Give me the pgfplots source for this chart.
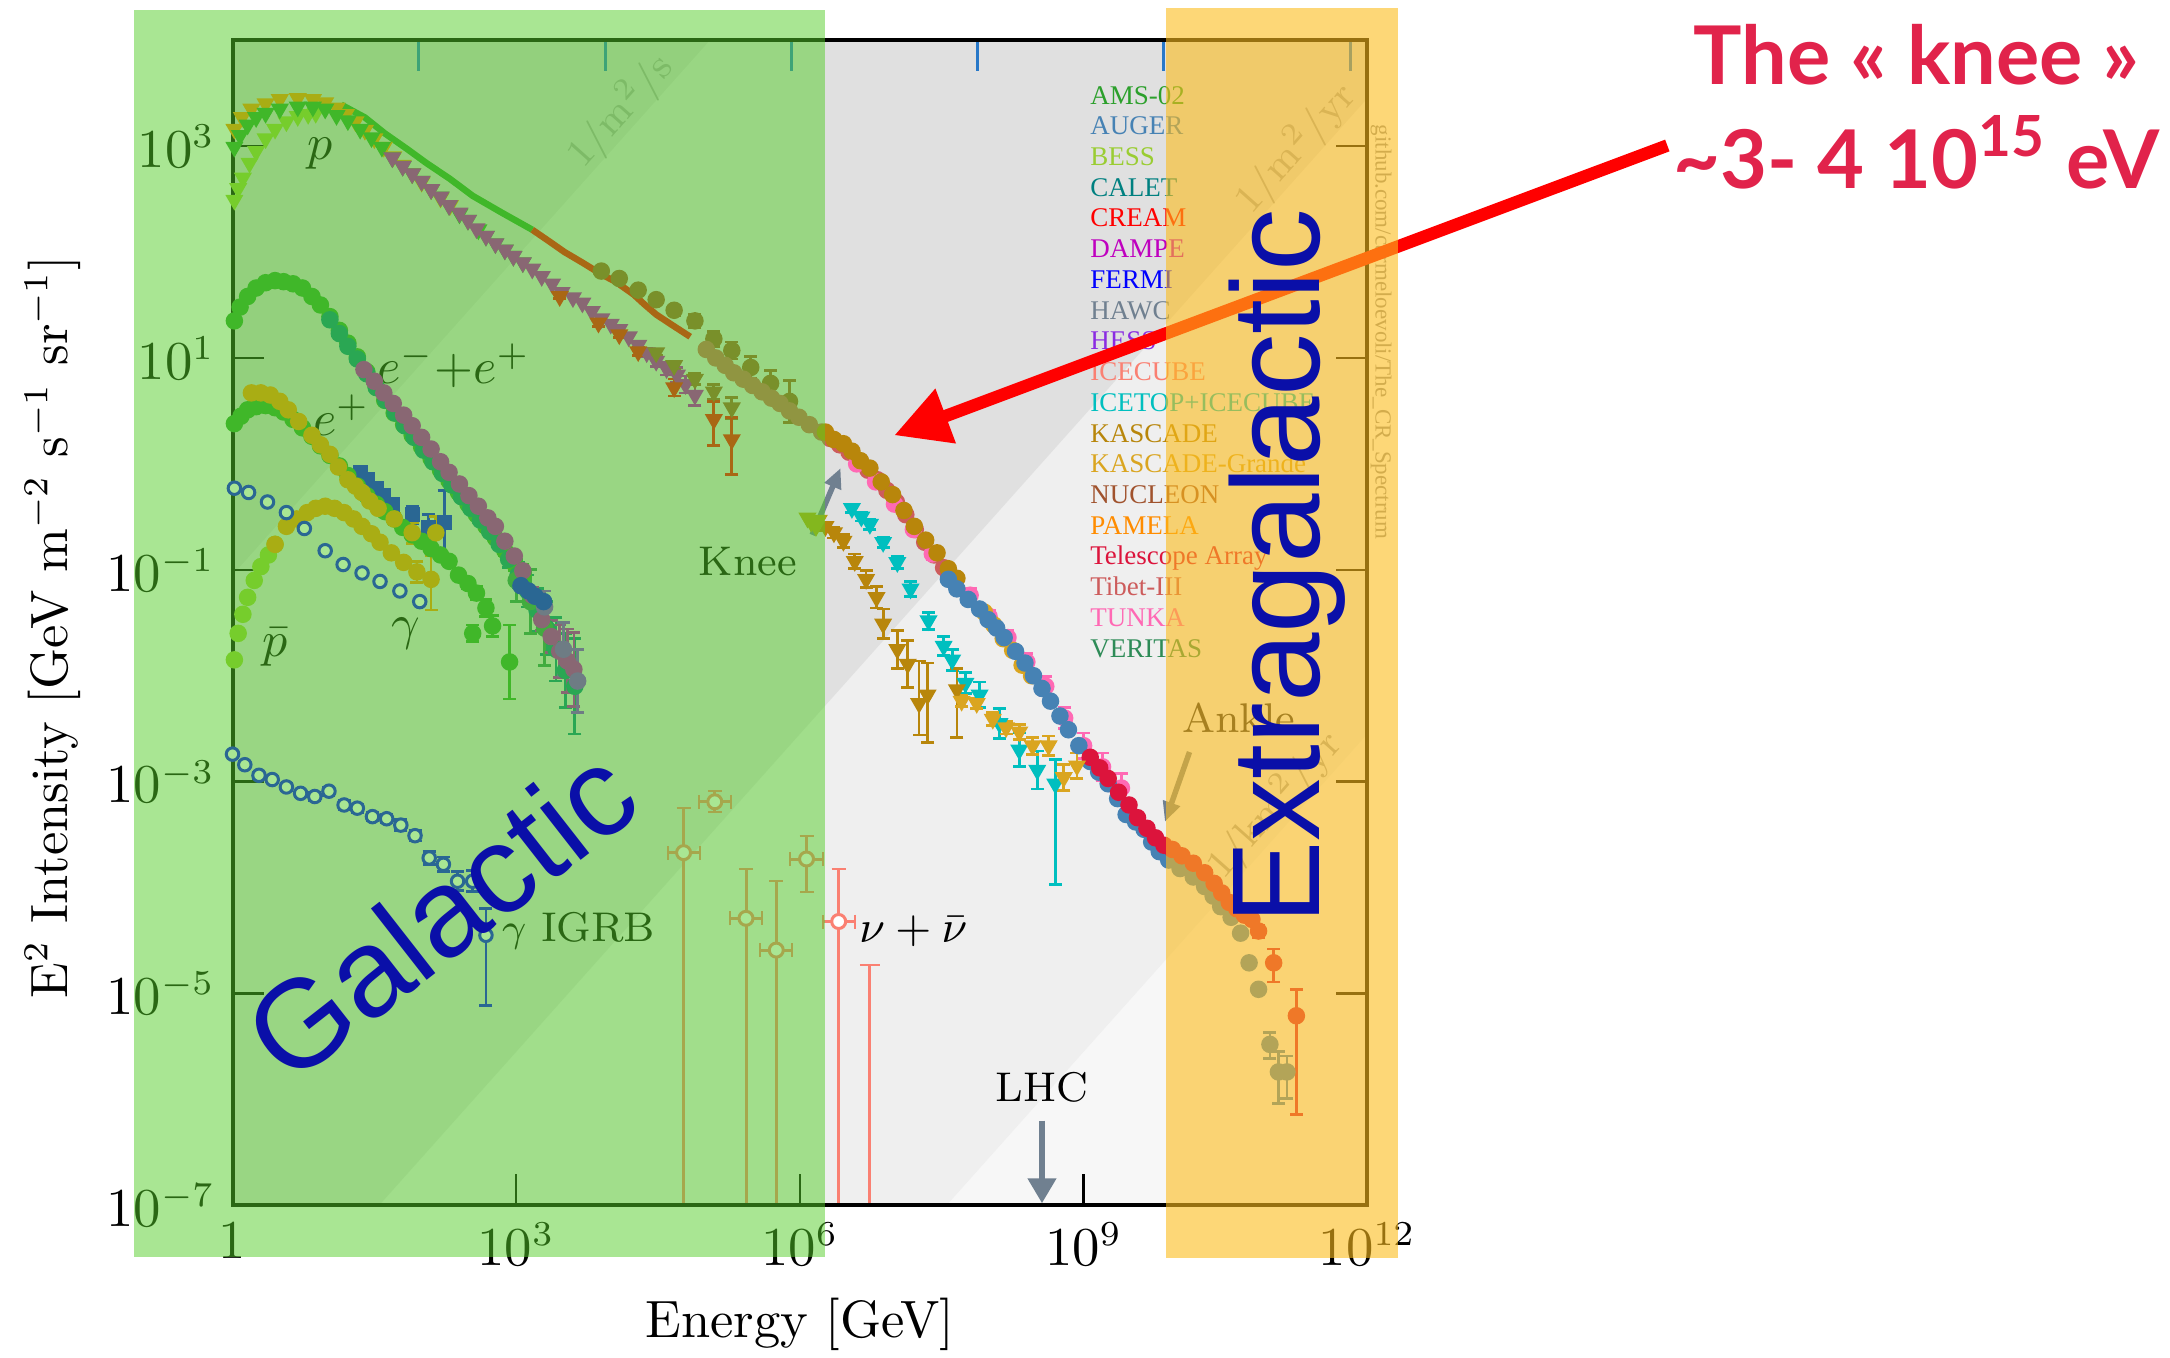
\documentclass[border=0pt]{standalone}
\usepackage{pgfplots}
\pgfplotsset{compat=1.18}
\usepackage{fontspec}
\usetikzlibrary{arrows.meta}
\newfontfamily\arialf{Liberation Sans}
\newfontfamily\latof{Lato}
\newfontfamily\serf{Liberation Serif}
\definecolor{cAMS}{RGB}{44,160,44}
\definecolor{cAUGER}{RGB}{70,130,180}
\definecolor{cBESS}{RGB}{154,205,50}
\definecolor{cCALET}{RGB}{0,128,128}
\definecolor{cCREAM}{RGB}{255,0,0}
\definecolor{cDAMPE}{RGB}{191,0,191}
\definecolor{cFERMI}{RGB}{0,0,255}
\definecolor{cHAWC}{RGB}{112,128,144}
\definecolor{cHESS}{RGB}{138,43,226}
\definecolor{cICECUBE}{RGB}{250,128,114}
\definecolor{cICETOP}{RGB}{0,191,191}
\definecolor{cKASCADE}{RGB}{184,134,11}
\definecolor{cKG}{RGB}{218,165,32}
\definecolor{cNUCLEON}{RGB}{160,82,45}
\definecolor{cPAMELA}{RGB}{255,140,0}
\definecolor{cTA}{RGB}{220,20,60}
\definecolor{cTIBET}{RGB}{205,92,92}
\definecolor{cTUNKA}{RGB}{255,105,180}
\definecolor{cVERITAS}{RGB}{46,139,87}
\definecolor{cKNEE}{RGB}{180,160,20}
\definecolor{slate}{RGB}{112,128,144}
\definecolor{bgA}{RGB}{212,212,212}
\definecolor{bgB}{RGB}{224,224,224}
\definecolor{bgC}{RGB}{239,239,239}
\definecolor{bgD}{RGB}{247,247,247}
\definecolor{galgreen}{RGB}{84,206,40}
\definecolor{exorange}{RGB}{252,188,28}
\definecolor{galblue}{RGB}{10,15,168}
\definecolor{kneered}{RGB}{225,35,75}
\definecolor{tickblue}{RGB}{40,120,200}
\definecolor{diag}{RGB}{168,168,168}
\definecolor{ghgray}{RGB}{150,150,150}
\pgfplotsset{
  pc/.style={only marks, mark=*, mark size=1.55pt, color=#1},
  pt/.style={only marks, mark=triangle*, mark size=1.7pt, mark options={rotate=180}, color=#1},
  ps/.style={only marks, mark=square*, mark size=1.3pt, color=#1},
  po/.style={only marks, mark=*, mark size=1.25pt, mark options={fill=white, line width=0.6pt}, color=#1},
  eb/.style={/pgfplots/error bars/y dir=both, /pgfplots/error bars/y explicit, /pgfplots/error bars/error bar style={line width=0.55pt}, /pgfplots/error bars/error mark options={rotate=90, mark size=1.3pt, line width=0.55pt}},
}
\begin{document}
\begin{tikzpicture}
\begin{axis}[
  at={(46.5pt,30.32pt)}, anchor=south west,
  scale only axis, width=226.96pt, height=233.06pt,
  xmin=0, xmax=12, ymin=-7, ymax=4,
  axis on top,
  axis background/.style={fill=bgD},
  axis line style={line width=0.8pt, black},
  every tick/.style={black, line width=0.5pt},
  tick align=inside, major tick length=6.2pt,
  xtick={0,3,6,9,12},
  xticklabels={$1$,$10^{3}$,$10^{6}$,$10^{9}$,$10^{12}$},
  ytick={-7,-5,-3,-1,1,3},
  yticklabels={$10^{-7}$,$10^{-5}$,$10^{-3}$,$10^{-1}$,$10^{1}$,$10^{3}$},
  xtick pos=left, ytick pos=both,
  xticklabel pos=left, yticklabel pos=left,
  tick label style={font=\fontsize{10.5}{12}\selectfont},
  label style={font=\fontsize{10.5}{12}\selectfont},
  xlabel={Energy [GeV]},
  ylabel={E$^2$ Intensity [GeV m$^{-2}$ s$^{-1}$ sr$^{-1}$]},
  xlabel style={at={(axis description cs:0.5,-0.102)}, anchor=center},
  ylabel style={at={(axis description cs:-0.1585,0.496)}, anchor=center},
]
% background flux bands
\fill[bgC] (axis cs:-1,-15.55) -- (axis cs:13,-1.55) -- (axis cs:13,5) -- (axis cs:-1,5) -- cycle;
\fill[bgB] (axis cs:-1,-9.55) -- (axis cs:13,4.45) -- (axis cs:13,5) -- (axis cs:-1,5) -- cycle;
\fill[bgA] (axis cs:-1,-2.05) -- (axis cs:6.05,5) -- (axis cs:-1,5) -- cycle;
% top ticks
\draw[tickblue, line width=0.6pt] (axis cs:1.97,4) -- ++(0pt,-6.2pt);
\draw[tickblue, line width=0.6pt] (axis cs:3.94,4) -- ++(0pt,-6.2pt);
\draw[tickblue, line width=0.6pt] (axis cs:5.91,4) -- ++(0pt,-6.2pt);
\draw[tickblue, line width=0.6pt] (axis cs:7.88,4) -- ++(0pt,-6.2pt);
\draw[tickblue, line width=0.6pt] (axis cs:9.85,4) -- ++(0pt,-6.2pt);
\draw[tickblue, line width=0.6pt] (axis cs:11.82,4) -- ++(0pt,-6.2pt);
% diagonal labels
\node[rotate=48.3, text=diag, font=\fontsize{8}{9}\selectfont] at (axis cs:4.10,3.33) {1/m$^2$/s};
\node[rotate=48.3, text=diag, font=\fontsize{8}{9}\selectfont] at (axis cs:11.24,2.98) {1/m$^2$/yr};
\node[rotate=48.3, text=diag, font=\fontsize{8}{9}\selectfont] at (axis cs:11.02,-3.22) {1/km$^2$/yr};

% ---------------- protons ----------------
\addplot[pt=cBESS] coordinates {(0.02,2.49) (0.06,2.60) (0.11,2.70) (0.18,2.84) (0.25,2.95) (0.35,3.07) (0.45,3.16) (0.57,3.23) (0.69,3.28) (0.80,3.30) (0.88,3.31)};
\addplot[pt=cPAMELA] coordinates {(0.02,3.16) (0.10,3.27) (0.20,3.35) (0.35,3.40) (0.50,3.44) (0.69,3.45) (0.85,3.44) (0.98,3.41) (1.10,3.36) (1.20,3.30) (1.30,3.23) (1.40,3.15) (1.50,3.07) (1.60,2.99) (1.70,2.90) (1.80,2.82) (1.90,2.74) (2.00,2.66) (2.10,2.59) (2.20,2.51) (2.30,2.44)};
\addplot[pt=cAMS] coordinates {(0.02,2.99) (0.08,3.10) (0.16,3.20) (0.25,3.27) (0.35,3.31) (0.50,3.35) (0.69,3.37) (0.85,3.37) (0.98,3.35) (1.10,3.29) (1.22,3.24) (1.35,3.16) (1.47,3.08) (1.58,2.99) (1.69,2.89) (1.80,2.81) (1.90,2.74) (2.00,2.67) (2.10,2.59) (2.20,2.52) (2.29,2.44) (2.40,2.36) (2.49,2.30) (2.60,2.21) (2.68,2.15) (2.78,2.08) (2.88,2.02) (2.97,1.96) (3.07,1.90)};
\addplot[cAMS, line width=1.3pt, no marks] coordinates {(1.15,3.39) (1.40,3.27) (1.61,3.12) (1.85,2.97) (2.05,2.84) (2.30,2.69) (2.54,2.53) (2.85,2.37) (3.17,2.21)};
\addplot[cCREAM, line width=1.3pt, no marks] coordinates {(3.17,2.21) (3.35,2.10) (3.51,2.00) (3.70,1.90) (3.90,1.79) (4.05,1.72) (4.24,1.60) (4.35,1.51) (4.48,1.41) (4.65,1.31) (4.84,1.20)};
\addplot[pt=cDAMPE, eb] coordinates {(1.69,2.89) (1.80,2.81) (1.90,2.74) (2.00,2.67) (2.10,2.59) (2.20,2.52) (2.29,2.44) (2.40,2.37) (2.49,2.30) (2.58,2.22) (2.68,2.15) (2.78,2.08) (2.88,2.02) (2.97,1.96) (3.07,1.90) (3.17,1.84) (3.27,1.77) (3.38,1.70) (3.48,1.62) (3.60,1.57) (3.70,1.52) (3.80,1.44) (3.90,1.37) (4.00,1.32) (4.09,1.27) (4.19,1.20) (4.29,1.12) +- (0,0.03) (4.38,1.05) +- (0,0.04) (4.48,0.97) +- (0,0.05) (4.59,0.90) +- (0,0.06) (4.70,0.84) +- (0,0.07) (4.79,0.75) +- (0,0.08) (4.89,0.65) +- (0,0.10)};
\addplot[pt=cNUCLEON, eb] coordinates {(4.48,1.05) +- (0,0.03) (4.67,0.93) +- (0,0.04) (4.89,0.80) +- (0,0.05) (5.09,0.68) +- (0,0.07) (5.28,0.53) +- (0,0.10)};
\addplot[pt=cCREAM, eb] coordinates {(3.46,1.58) +- (0,0.02) (3.87,1.33) +- (0,0.03) (4.09,1.22) +- (0,0.03) (4.29,1.06) +- (0,0.04) (4.67,0.72) +- (0,0.08) (5.09,0.42) += (0,0.17) -= (0,0.25) (5.28,0.23) += (0,0.21) -= (0,0.33)};
% ---------------- all particle ----------------
\addplot[pc=cNUCLEON, eb] coordinates {(3.90,1.82) +- (0,0.03) (4.09,1.75) +- (0,0.03) (4.29,1.64) +- (0,0.04) (4.48,1.55) +- (0,0.04) (4.67,1.45) +- (0,0.05) (4.89,1.35) +- (0,0.06) (5.09,1.18) +- (0,0.07) (5.28,1.07) +- (0,0.08) (5.48,0.91) +- (0,0.10) (5.69,0.76) +- (0,0.12) (5.89,0.59) +- (0,0.20)};
\addplot[pc=cTIBET] coordinates {(5.01,1.08) (5.11,1.00) (5.21,0.93) (5.30,0.86) (5.40,0.80) (5.50,0.74) (5.60,0.68) (5.70,0.62) (5.79,0.57) (5.89,0.50) (5.99,0.44) (6.10,0.37) (6.23,0.30) (6.32,0.24) (6.42,0.18) (6.52,0.11) (6.62,0.02) (6.72,-0.06) (6.82,-0.15) (6.92,-0.25) (7.02,-0.36) (7.12,-0.48) (7.22,-0.62) (7.32,-0.74) (7.42,-0.86) (7.52,-0.98) (7.62,-1.10)};
\addplot[pc=cTUNKA, eb] coordinates {(6.60,0.00) +- (0,0.03) (6.80,-0.17) +- (0,0.03) (7.00,-0.38) +- (0,0.04) (7.20,-0.62) +- (0,0.04) (7.40,-0.85) +- (0,0.05) (7.60,-1.07) +- (0,0.05) (7.80,-1.24) +- (0,0.06) (8.00,-1.44) +- (0,0.06) (8.20,-1.64) +- (0,0.07) (8.40,-1.87) +- (0,0.08) (8.60,-2.10) +- (0,0.09) (8.80,-2.40) +- (0,0.10) (9.00,-2.66) +- (0,0.12) (9.20,-2.86) +- (0,0.13) (9.40,-3.06) +- (0,0.14)};
\addplot[pc=cKASCADE] coordinates {(6.27,0.30) (6.36,0.23) (6.46,0.19) (6.55,0.12) (6.64,0.03) (6.74,-0.04) (6.86,-0.17) (6.98,-0.29) (7.10,-0.44) (7.21,-0.59) (7.33,-0.72) (7.45,-0.84) (7.57,-0.99) (7.66,-1.08)};
\addplot[pc=cKG] coordinates {(7.95,-1.40) (8.05,-1.52) (8.15,-1.65) (8.25,-1.76) (8.35,-1.90) (8.45,-2.00)};
\addplot[pc=cAUGER, eb] coordinates {(7.57,-1.09) (7.66,-1.18) (7.78,-1.28) (7.90,-1.37) (7.99,-1.47) (8.08,-1.55) (8.16,-1.64) (8.28,-1.77) (8.38,-1.88) (8.47,-2.00) (8.56,-2.12) (8.65,-2.24) (8.75,-2.38) (8.84,-2.51) (8.95,-2.66) (9.07,-2.81) (9.16,-2.91) (9.26,-3.02) (9.36,-3.16) (9.45,-3.31) (9.55,-3.38) (9.64,-3.45) (9.72,-3.57) (9.80,-3.66) (9.90,-3.74) (10.02,-3.82) (10.16,-3.90) (10.28,-3.99) (10.37,-4.08) (10.45,-4.18) (10.56,-4.28) (10.66,-4.43) (10.75,-4.71) (10.85,-4.96) (10.97,-5.48) += (0,0.11) -= (0,0.13) (11.06,-5.74) += (0,0.19) -= (0,0.30) (11.15,-5.74) += (0,0.15) -= (0,0.25)};
\addplot[pc=cTA, eb] coordinates {(9.07,-2.77) (9.17,-2.87) (9.26,-2.97) (9.37,-3.10) (9.48,-3.22) (9.57,-3.34) (9.67,-3.44) (9.76,-3.53) (9.85,-3.60) (9.94,-3.64) (10.04,-3.70) (10.16,-3.77) (10.28,-3.86) (10.38,-3.96) (10.46,-4.05) (10.54,-4.14) (10.62,-4.20) (10.70,-4.26) (10.78,-4.30) (10.85,-4.41) += (0,0.05) -= (0,0.06) (11.01,-4.71) += (0,0.13) -= (0,0.18) (11.25,-5.21) += (0,0.25) -= (0,0.93)};
% ---------------- light components ----------------
\addplot[pt=cICETOP, eb] coordinates {(6.55,-0.42) +- (0,0.04) (6.65,-0.50) +- (0,0.04) (6.74,-0.57) +- (0,0.05) (6.88,-0.74) +- (0,0.05) (7.03,-0.93) +- (0,0.06) (7.17,-1.18) +- (0,0.07) (7.36,-1.48) +- (0,0.08) (7.52,-1.72) +- (0,0.09) (7.61,-1.85) +- (0,0.10) (7.75,-2.07) +- (0,0.10) (7.90,-2.18) +- (0,0.12) (8.11,-2.45) +- (0,0.14) (8.32,-2.70) +- (0,0.16) (8.51,-2.89) +- (0,0.18) (8.70,-3.02) += (0,0.23) -= (0,0.95)};
\addplot[pt=cKASCADE, eb] coordinates {(6.27,-0.59) +- (0,0.04) (6.36,-0.65) +- (0,0.05) (6.46,-0.73) +- (0,0.06) (6.58,-0.92) +- (0,0.07) (6.70,-1.09) +- (0,0.08) (6.81,-1.26) +- (0,0.10) (6.88,-1.51) +- (0,0.14) (7.03,-1.75) +- (0,0.18) (7.14,-1.89) +- (0,0.22) (7.26,-2.26) += (0,0.40) -= (0,0.30) (7.35,-2.18) += (0,0.30) -= (0,0.45) (7.66,-2.13) += (0,0.20) -= (0,0.45)};
\addplot[pt=cKG, eb] coordinates {(7.71,-2.24) +- (0,0.05) (7.87,-2.26) +- (0,0.05) (8.04,-2.41) +- (0,0.06) (8.18,-2.49) +- (0,0.06) (8.32,-2.53) +- (0,0.07) (8.46,-2.66) +- (0,0.08) (8.63,-2.66) +- (0,0.09) (8.79,-2.96) +- (0,0.12) (8.93,-2.85) +- (0,0.12)};
\addplot[pt=cKNEE] coordinates {(6.08,-0.51) (6.12,-0.55) (6.17,-0.59) (6.20,-0.53)};
% ---------------- electrons ----------------
\addplot[pc=cAMS, eb] coordinates {(0.02,1.35) (0.08,1.48) (0.16,1.58) (0.25,1.66) (0.35,1.71) (0.45,1.73) (0.54,1.72) (0.64,1.70) (0.74,1.66) (0.84,1.58) (0.93,1.50) (1.03,1.39) (1.13,1.26) (1.22,1.14) (1.32,1.01) (1.42,0.87) (1.52,0.73) (1.61,0.60) (1.71,0.48) (1.81,0.37) (1.90,0.27) (2.00,0.16) (2.10,0.05) (2.20,-0.06) (2.29,-0.16) (2.39,-0.27) (2.49,-0.38) (2.58,-0.48) (2.68,-0.59) (2.78,-0.70) +- (0,0.03) (2.88,-0.82) +- (0,0.05) (2.98,-0.94) +- (0,0.07) (3.07,-1.05) +- (0,0.10)};
\addplot[pc=cCALET, eb] coordinates {(1.03,1.36) (1.13,1.23) (1.22,1.11) (1.32,0.99) (1.42,0.85) (1.52,0.72) (1.62,0.60) (1.72,0.48) (1.82,0.36) (1.92,0.25) (2.02,0.13) (2.12,0.02) (2.22,-0.09) (2.32,-0.20) (2.42,-0.31) (2.52,-0.42) (2.62,-0.53) (2.72,-0.64) (2.82,-0.76) +- (0,0.05) (2.92,-0.90) +- (0,0.08) (3.02,-1.05) +- (0,0.12) (3.12,-1.20) +- (0,0.15) (3.22,-1.38) +- (0,0.20) (3.32,-1.55) +- (0,0.25) (3.42,-1.75) +- (0,0.30) (3.52,-1.95) +- (0,0.35) (3.62,-2.10) +- (0,0.45)};
\addplot[pc=cVERITAS, eb] coordinates {(3.00,-1.10) +- (0,0.20) (3.15,-1.30) +- (0,0.30) (3.30,-1.55) +- (0,0.35)};
\addplot[pc=cDAMPE, eb] coordinates {(1.39,0.89) (1.50,0.78) (1.60,0.67) (1.70,0.57) (1.81,0.46) (1.90,0.36) (2.00,0.25) (2.10,0.14) (2.20,0.02) (2.29,-0.08) (2.40,-0.19) (2.50,-0.30) (2.60,-0.40) (2.70,-0.51) (2.78,-0.59) (2.88,-0.73) (2.98,-0.87) (3.07,-1.01) +- (0,0.05) (3.17,-1.24) +- (0,0.07) (3.27,-1.47) +- (0,0.10) (3.37,-1.63) +- (0,0.15) (3.46,-1.77) +- (0,0.25) (3.54,-1.86) +- (0,0.30) (3.61,-1.94) +- (0,0.35)};
\addplot[pc=cHESS, eb] coordinates {(3.30,-1.35) +- (0,0.15) (3.50,-1.75) +- (0,0.25) (3.65,-2.05) +- (0,0.30)};
\addplot[ps=cFERMI, eb] coordinates {(1.35,-0.08) (1.43,-0.15) (1.52,-0.23) (1.60,-0.30) (1.69,-0.38) (1.90,-0.48) +- (0,0.08) (2.07,-0.60) +- (0,0.12) (2.24,-0.55) +- (0,0.30)};
\addplot[pc=cFERMI] coordinates {(3.05,-1.15) (3.13,-1.20) (3.20,-1.25) (3.29,-1.30)};
% ---------------- positrons ----------------
\addplot[pc=cAMS, eb] coordinates {(0.02,0.38) (0.09,0.45) (0.16,0.51) (0.25,0.54) (0.35,0.55) (0.45,0.53) (0.54,0.49) (0.64,0.42) (0.74,0.34) (0.84,0.26) (0.93,0.17) (1.03,0.08) (1.13,-0.02) (1.22,-0.11) (1.32,-0.21) (1.42,-0.30) (1.52,-0.38) (1.61,-0.45) (1.71,-0.52) (1.80,-0.60) (1.90,-0.67) (2.00,-0.73) (2.10,-0.80) (2.20,-0.86) (2.29,-0.92) +- (0,0.03) (2.39,-1.05) +- (0,0.04) (2.49,-1.13) +- (0,0.05) (2.58,-1.22) +- (0,0.06) (2.68,-1.36) +- (0,0.08)};
\addplot[pc=cAMS, eb] coordinates {(2.54,-1.60) +- (0,0.08) (2.75,-1.53) +- (0,0.10) (2.93,-1.87) +- (0,0.35)};
\addplot[pc=cPAMELA, eb] coordinates {(0.20,0.67) (0.30,0.67) (0.40,0.65) (0.50,0.59) (0.59,0.51) (0.70,0.40) (0.84,0.27) (0.93,0.18) (1.03,0.09) (1.12,-0.03) (1.22,-0.15) (1.30,-0.21) (1.37,-0.27) (1.45,-0.35) (1.54,-0.42) (1.71,-0.52) +- (0,0.05) (1.90,-0.65) +- (0,0.10) (2.15,-0.65) +- (0,0.15)};
% ---------------- antiprotons ----------------
\addplot[pc=cBESS] coordinates {(0.02,-1.85) (0.06,-1.60) (0.11,-1.42) (0.16,-1.26) (0.23,-1.10) (0.30,-0.97) (0.38,-0.86) (0.45,-0.76)};
\addplot[pc=cPAMELA, eb] coordinates {(0.45,-0.76) (0.57,-0.59) (0.68,-0.52) (0.79,-0.46) (0.88,-0.42) (0.98,-0.40) (1.08,-0.42) (1.18,-0.46) (1.28,-0.52) (1.37,-0.59) (1.47,-0.66) (1.56,-0.74) (1.68,-0.84) (1.81,-0.93) +- (0,0.05) (1.95,-1.02) +- (0,0.10) (2.10,-1.09) += (0,0.22) -= (0,0.29)};
% ---------------- gamma ----------------
\addplot[po=cFERMI] coordinates {(0.02,-0.23) (0.17,-0.27) (0.37,-0.36) (0.57,-0.46) (0.76,-0.61) (0.98,-0.82) (1.17,-0.95) (1.37,-1.03) (1.56,-1.11) (1.77,-1.20) (1.98,-1.30)};
\addplot[po=cFERMI, eb] coordinates {(0.00,-2.74) +- (0,0.03) (0.13,-2.84) +- (0,0.03) (0.28,-2.94) +- (0,0.03) (0.42,-2.98) +- (0,0.03) (0.57,-3.05) +- (0,0.03) (0.72,-3.11) +- (0,0.03) (0.87,-3.14) +- (0,0.04) (1.02,-3.09) +- (0,0.04) (1.18,-3.22) +- (0,0.04) (1.32,-3.25) +- (0,0.04) (1.48,-3.33) +- (0,0.04) (1.63,-3.35) +- (0,0.04) (1.78,-3.41) +- (0,0.05) (1.93,-3.51) +- (0,0.05) (2.08,-3.72) +- (0,0.06) (2.23,-3.78) +- (0,0.07) (2.38,-3.94) +- (0,0.09) (2.54,-3.94) +- (0,0.10) (2.68,-4.45) += (0,0.25) -= (0,0.66)};
% ---------------- neutrinos ----------------
\addplot[po=cICECUBE, mark size=1.4pt, error bars/.cd, x dir=both, x explicit, y dir=both, y explicit, error bar style={line width=0.6pt}] coordinates {(4.77,-3.67) += (0.17,0.42) -= (0.17,4) (5.10,-3.19) += (0.17,0.10) -= (0.17,0.10) (5.43,-4.29) += (0.17,0.47) -= (0.17,4) (5.75,-4.59) += (0.17,0.65) -= (0.17,4) (6.07,-3.73) += (0.17,0.22) -= (0.17,0.31) (6.41,-4.32) += (0.17,0.50) -= (0.17,4)};
\addplot[cICECUBE, only marks, mark=none, error bars/.cd, y dir=plus, y explicit, error bar style={line width=0.6pt}] coordinates {(6.74,-7.20) += (0,2.47)};

% ---------------- labels ----------------
\node[font=\fontsize{10}{12}\selectfont] at (axis cs:0.93,2.93) {$p$};
\node[font=\fontsize{10}{12}\selectfont] at (axis cs:2.34,0.93) {$e^-{+}e^+$};
\node[font=\fontsize{10}{12}\selectfont] at (axis cs:1.15,0.46) {$e^+$};
\node[font=\fontsize{10}{12}\selectfont] at (axis cs:0.45,-1.73) {$\bar p$};
\node[font=\fontsize{10}{12}\selectfont] at (axis cs:1.83,-1.60) {$\gamma$};
\node[font=\fontsize{8.3}{10}\selectfont] at (axis cs:5.45,-0.92) {Knee};
\node[font=\fontsize{8.3}{10}\selectfont] at (axis cs:3.66,-4.41) {$\gamma$ IGRB};
\node[font=\fontsize{9.5}{11}\selectfont] at (axis cs:7.20,-4.41) {$\nu+\bar\nu$};
\node[font=\fontsize{8.3}{10}\selectfont] at (axis cs:8.56,-5.89) {LHC};
\node[font=\fontsize{8.3}{10}\selectfont, text={rgb,255:red,40;green,40;blue,40}] at (axis cs:10.64,-2.40) {Ankle};
\draw[slate, line width=1.1pt, -{Triangle[width=3.4pt,length=4pt]}] (axis cs:6.13,-0.67) -- (axis cs:6.43,-0.04);
\draw[slate, line width=1.1pt, -{Triangle[width=3.4pt,length=4pt]}] (axis cs:10.12,-2.72) -- (axis cs:9.86,-3.38);
\draw[slate, line width=1.2pt, -{Triangle[width=5.5pt,length=5pt]}] (axis cs:8.56,-6.20) -- (axis cs:8.56,-6.98);
% legend
\begin{scope}[every node/.style={anchor=base west, inner sep=0pt, font=\serf\fontsize{5.4}{6}\selectfont}]
\node[text=cAMS] at (axis cs:9.06,3.396) {AMS-02};
\node[text=cAUGER] at (axis cs:9.06,3.106) {AUGER};
\node[text=cBESS] at (axis cs:9.06,2.816) {BESS};
\node[text=cCALET] at (axis cs:9.06,2.526) {CALET};
\node[text=cCREAM] at (axis cs:9.06,2.236) {CREAM};
\node[text=cDAMPE] at (axis cs:9.06,1.946) {DAMPE};
\node[text=cFERMI] at (axis cs:9.06,1.656) {FERMI};
\node[text=cHAWC] at (axis cs:9.06,1.366) {HAWC};
\node[text=cHESS] at (axis cs:9.06,1.076) {HESS};
\node[text=cICECUBE] at (axis cs:9.06,0.786) {ICECUBE};
\node[text=cICETOP] at (axis cs:9.06,0.496) {ICETOP+ICECUBE};
\node[text=cKASCADE] at (axis cs:9.06,0.206) {KASCADE};
\node[text=cKG] at (axis cs:9.06,-0.084) {KASCADE-Grande};
\node[text=cNUCLEON] at (axis cs:9.06,-0.374) {NUCLEON};
\node[text=cPAMELA] at (axis cs:9.06,-0.664) {PAMELA};
\node[text=cTA] at (axis cs:9.06,-0.954) {Telescope Array};
\node[text=cTIBET] at (axis cs:9.06,-1.244) {Tibet-III};
\node[text=cTUNKA] at (axis cs:9.06,-1.534) {TUNKA};
\node[text=cVERITAS] at (axis cs:9.06,-1.824) {VERITAS};
\end{scope}
\end{axis}
% github credit
\node[rotate=-90, text=ghgray, font=\serf\fontsize{4.6}{5}\selectfont] at (276.2pt,205pt) {github.com/carmeloevoli/The\_CR\_Spectrum};
% red arrow
\draw[red, line width=2.5pt, -{Triangle[width=11pt,length=11pt]}] (333.46pt,242.3pt) -- (178.84pt,184.34pt);
% overlays
\fill[galgreen, opacity=0.5] (26.74pt,20.08pt) rectangle (165.0pt,269.38pt);
\fill[exorange, opacity=0.6] (233.1pt,19.8pt) rectangle (279.6pt,269.8pt);
\node[rotate=38, inner sep=0pt, text=galblue, font=\arialf\fontsize{25}{30}\selectfont] at (88.0pt,88.7pt) {Galactic};
\node[rotate=90, inner sep=0pt, text=galblue, font=\arialf\fontsize{25}{30}\selectfont] at (257.5pt,157.96pt) {Extragalactic};
\node[anchor=base, inner sep=0pt, text=kneered, font=\latof\bfseries\fontsize{16.2}{19}\selectfont] at (383.3pt,254.5pt) {The « knee »};
\node[anchor=base, inner sep=0pt, text=kneered, font=\latof\bfseries\fontsize{16.2}{19}\selectfont] at (383.3pt,233.8pt) {\textasciitilde 3- 4 10\textsuperscript{15} eV};
\pgfresetboundingbox
\path[use as bounding box] (0,0) rectangle (434pt,271.4pt);
\end{tikzpicture}
\end{document}
